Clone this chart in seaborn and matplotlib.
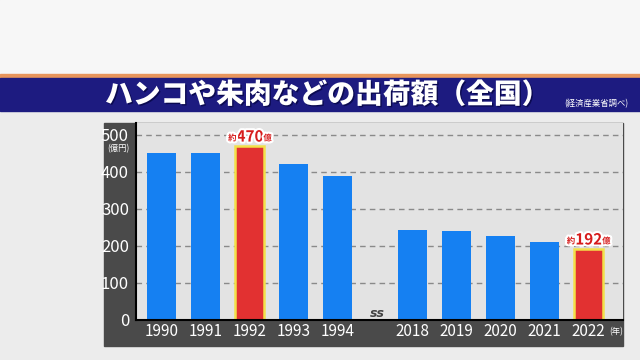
import matplotlib.pyplot as plt
import matplotlib.patheffects as pe
from matplotlib.patches import Rectangle
import pandas as pd
import seaborn as sns

# data (億円)
years = ['1990', '1991', '1992', '1993', '1994', '2018', '2019', '2020', '2021', '2022']
values = [450, 450, 470, 420, 390, 243, 240, 227, 211, 192]
highlight = [False, False, True, False, False, False, False, False, False, True]
callouts = ['', '', '470', '', '', '', '', '', '', '192']
yticks = [0, 100, 200, 300, 400, 500]

sns.set_style("white")
plt.rcParams['font.family'] = ['Noto Sans CJK JP', 'DejaVu Sans']

# small gap between 1994 and 2018 for the axis break
gap = 0.7
pos = [i + (gap if i >= 5 else 0) for i in range(len(years))]
df = pd.DataFrame({'pos': pos, 'value': values,
                   'kind': ['red' if h else 'blue' for h in highlight]})

W, H = 640, 360
fig = plt.figure(figsize=(6.4, 3.6), dpi=100, facecolor='#ececec')

def band(x0, y0, x1, y1, color):
    # rectangle in pixel coords (y from top)
    fig.patches.append(Rectangle((x0 / W, 1 - y1 / H), (x1 - x0) / W, (y1 - y0) / H,
                                 transform=fig.transFigure, color=color, zorder=-1))

band(0, 0, 640, 74, '#f7f7f7')
band(0, 74, 640, 78, '#e8955c')
band(0, 78, 640, 111, '#1d1b80')
band(104, 123, 623, 346, '#4a4a4a')

ax = fig.add_axes([136 / W, 1 - 320 / H, 487 / W, 197 / H])
ax.set_zorder(2)
ax.set_facecolor('#e3e3e3')

sns.barplot(data=df, x='pos', y='value', hue='kind',
            palette={'blue': '#1580f2', 'red': '#e23131'},
            native_scale=True, dodge=False, width=0.66, saturation=1,
            linewidth=0, legend=False, ax=ax)

for p in ax.patches:
    r, g, b, _ = p.get_facecolor()
    if r > 0.8 and b < 0.4:
        p.set_edgecolor('#f2e14a')
        p.set_linewidth(1.8)

ax.set_xlim(-0.59, 10.48)
ax.set_ylim(0, 532)
ax.set_yticks(yticks)
ax.set_xticks(pos)
ax.set_xticklabels(years)
ax.yaxis.grid(True, ls=(0, (4, 3)), color='#8a8a8a', lw=1)
ax.set_axisbelow(True)
ax.set_xlabel('')
ax.set_ylabel('')
ax.tick_params(axis='y', length=0, labelcolor='white', labelsize=12, pad=5)
ax.tick_params(axis='x', length=0, labelcolor='white', labelsize=11, pad=2)
for s in ['top', 'right']:
    ax.spines[s].set_visible(False)
for s in ['left', 'bottom']:
    ax.spines[s].set_color('black')
    ax.spines[s].set_linewidth(1.5)

# red callouts above highlighted bars
stroke = [pe.withStroke(linewidth=3, foreground='white')]
for x, v, lab in zip(pos, values, callouts):
    if not lab:
        continue
    t = ax.annotate(lab, xy=(x, v), xytext=(0, 1), textcoords='offset points',
                    ha='center', va='bottom', color='#d61c1c', fontsize=11,
                    fontweight='bold', path_effects=stroke)
    ax.annotate('約', xy=(0, 0.12), xycoords=t, ha='right', va='bottom',
                color='#d61c1c', fontsize=6, fontweight='bold', path_effects=stroke)
    ax.annotate('億', xy=(1, 0.12), xycoords=t, ha='left', va='bottom',
                color='#d61c1c', fontsize=6, fontweight='bold', path_effects=stroke)

# axis break mark
ax.annotate('ss', xy=(4.9, 0), xytext=(0, 0), textcoords='offset points',
            ha='center', va='bottom', color='#444444', fontsize=9,
            fontstyle='italic', fontweight='bold', family='DejaVu Sans',
            annotation_clip=False)

fig.text(118 / W, 1 - 149 / H, '(億円)', color='white', fontsize=6, ha='center', va='center', zorder=3)
fig.text(616 / W, 1 - 332 / H, '(年)', color='white', fontsize=6, ha='center', va='center', zorder=3)

fig.text(327 / W, 1 - 95 / H, 'ハンコや朱肉などの出荷額（全国）', color='white',
         fontsize=20, fontweight='black', ha='center', va='center',
         path_effects=[pe.withSimplePatchShadow(offset=(1, -1), shadow_rgbFace='#000033', alpha=0.6)])
fig.text(596 / W, 1 - 104 / H, '(経済産業省調べ)', color='white', fontsize=6,
         ha='center', va='center')

fig.savefig('out.png', dpi=100, facecolor=fig.get_facecolor())
